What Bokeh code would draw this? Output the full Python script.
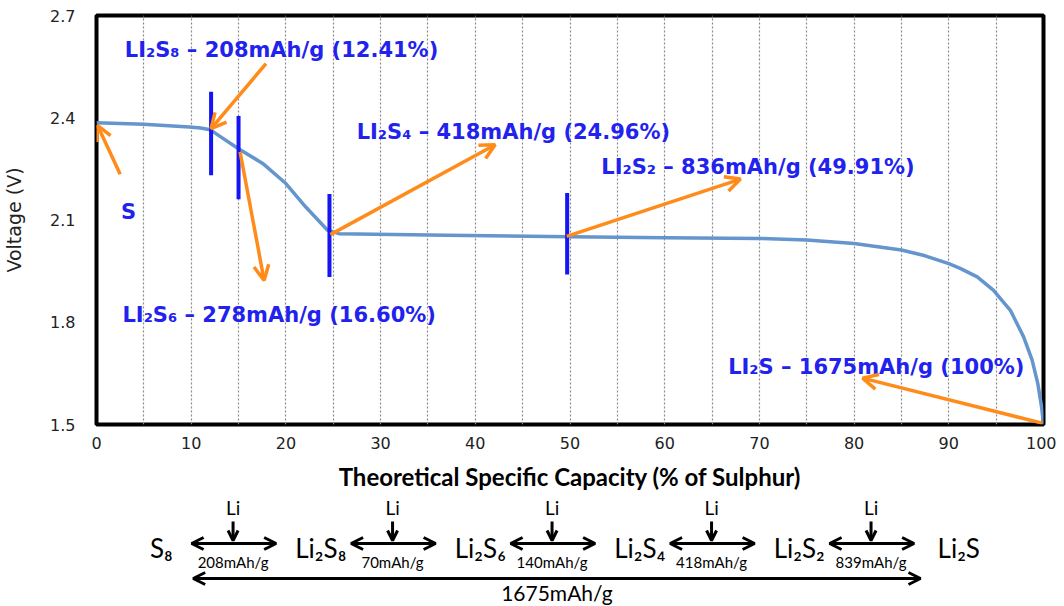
from bokeh.plotting import figure
from bokeh.layouts import column
from bokeh.models import (Range1d, FixedTicker, ColumnDataSource, Arrow, OpenHead)
from bokeh.core.properties import value
from bokeh.embed import file_html
from bokeh.resources import INLINE

# ---------------- data ----------------
capacity = [0, 5, 9.8, 11.0, 12.0, 13.0, 14.95, 17.55, 20.0, 22.1, 24.4, 25.6, 37, 50,
            60, 70, 75, 80, 85, 87.5, 90, 91.2, 93.0, 94.7, 96.5, 97.9, 98.8, 99.4, 99.8, 100]
voltage = [2.385, 2.381, 2.373, 2.370, 2.365, 2.346, 2.310, 2.266, 2.207, 2.138, 2.070, 2.060,
           2.055, 2.051, 2.048, 2.046, 2.041, 2.031, 2.012, 1.995, 1.972, 1.958, 1.933, 1.894,
           1.835, 1.757, 1.689, 1.620, 1.551, 1.5]

x_ticks = [0, 10, 20, 30, 40, 50, 60, 70, 80, 90, 100]
y_ticks = [1.5, 1.8, 2.1, 2.4, 2.7]
grid_x = [5, 10, 15, 20, 25, 30, 35, 40, 45, 50, 55, 60, 65, 70, 75, 80, 85, 90, 95]

marker_x = [12.1, 15.0, 24.6, 49.7]
marker_lo = [2.231, 2.161, 1.933, 1.940]
marker_hi = [2.476, 2.405, 2.176, 2.179]

label_text = ["LI\u2082S\u2088 \u2013 208mAh/g (12.41%)", "S",
              "LI\u2082S\u2084 \u2013 418mAh/g (24.96%)",
              "LI\u2082S\u2082 \u2013 836mAh/g (49.91%)",
              "LI\u2082S\u2086 \u2013 278mAh/g (16.60%)",
              "LI\u2082S \u2013 1675mAh/g (100%)"]
label_x = [2.99, 2.6, 27.47, 53.3, 2.74, 66.7]
label_y = [2.598, 2.123, 2.358, 2.256, 1.821, 1.669]

arrow_x0 = [2.5, 17.9, 15.16, 24.7, 49.65, 99.85]
arrow_y0 = [2.234, 2.559, 2.30, 2.057, 2.052, 1.504]
arrow_x1 = [0.1, 12.1, 17.7, 42.1, 68.0, 80.9]
arrow_y1 = [2.378, 2.368, 1.923, 2.321, 2.22, 1.636]

species = ["S\u2088", "Li\u2082S\u2088", "Li\u2082S\u2086", "Li\u2082S\u2084", "Li\u2082S\u2082", "Li\u2082S"]
step_capacity = ["208mAh/g", "70mAh/g", "140mAh/g", "418mAh/g", "839mAh/g"]
total_capacity = "1675mAh/g"

BLUE_TXT = "#2222EE"
BLUE_MK = "#1414F5"
ORANGE = "#FF8C1A"
CURVE = "#6495CD"

W = 1056
BL, BR = 93, 13

# ---------------- main chart ----------------
p = figure(width=W, height=494, x_range=Range1d(0, 100), y_range=Range1d(1.5, 2.7),
           output_backend="svg", toolbar_location=None,
           min_border_left=BL, min_border_right=BR, min_border_top=15, min_border_bottom=70)
p.background_fill_color = "white"
p.border_fill_color = "white"
p.outline_line_color = "black"
p.outline_line_width = 4

p.xaxis.ticker = FixedTicker(ticks=x_ticks)
p.yaxis.ticker = FixedTicker(ticks=y_ticks)
for ax in (p.xaxis[0], p.yaxis[0]):
    ax.axis_line_color = None
    ax.major_tick_line_color = None
    ax.minor_tick_line_color = None
    ax.major_tick_out = 0
    ax.major_tick_in = 0
    ax.major_label_text_font = "DejaVu Sans"
    ax.major_label_text_font_size = "16px"
    ax.major_label_text_color = "#222222"
p.xaxis.major_label_standoff = 12
p.yaxis.major_label_standoff = 21

p.xaxis.axis_label = "Theoretical Specific Capacity (% of Sulphur)"
p.xaxis.axis_label_text_font = "Lato"
p.xaxis.axis_label_text_font_style = "bold"
p.xaxis.axis_label_text_font_size = "24px"
p.xaxis.axis_label_text_color = "black"
p.xaxis.axis_label_standoff = 10

p.yaxis.axis_label = "Voltage (V)"
p.yaxis.axis_label_text_font = "DejaVu Sans"
p.yaxis.axis_label_text_font_style = "normal"
p.yaxis.axis_label_text_font_size = "19px"
p.yaxis.axis_label_text_color = "#222222"
p.yaxis.axis_label_standoff = 22

p.ygrid.grid_line_color = None
p.xgrid.ticker = FixedTicker(ticks=grid_x)
p.xgrid.grid_line_color = "#8a8a8a"
p.xgrid.grid_line_dash = "2 2"
p.xgrid.grid_line_width = 1.2

p.line(capacity, voltage, line_color=CURVE, line_width=3.5, line_join="round")
p.segment(x0=marker_x, y0=marker_lo, x1=marker_x, y1=marker_hi,
          line_color=BLUE_MK, line_width=4)

arrow_src = ColumnDataSource(dict(x0=arrow_x0, y0=arrow_y0, x1=arrow_x1, y1=arrow_y1))
p.add_layout(Arrow(source=arrow_src, x_start="x0", y_start="y0", x_end="x1", y_end="y1",
                   line_color=ORANGE, line_width=3.5,
                   end=OpenHead(size=15, line_color=ORANGE, line_width=3.5)))

p.text(x=label_x, y=label_y, text=label_text, text_font=value("DejaVu Sans"),
       text_font_style="bold", text_font_size="21px", text_color=BLUE_TXT,
       text_align="left", text_baseline="alphabetic")

# ---------------- reaction scheme ----------------
H2 = 112
q = figure(width=W, height=H2, x_range=Range1d(-0.40625, 5.53125), y_range=Range1d(H2, 0),
           output_backend="svg", toolbar_location=None,
           min_border_left=BL, min_border_right=BR, min_border_top=0, min_border_bottom=0)
q.axis.visible = False
q.grid.grid_line_color = None
q.outline_line_color = None
q.background_fill_color = "white"
q.border_fill_color = "white"

sp_idx = list(range(len(species)))
step_mid = [i + 0.45 for i in range(len(step_capacity))]
step_x0 = [i + 0.19 for i in range(len(step_capacity))]
step_x1 = [i + 0.72 for i in range(len(step_capacity))]
total_x0 = step_x0[0] + 0.01
total_x1 = len(step_capacity) - 1 + 0.76

ROW_LI, ROW_DOWN0, ROW_DOWN1, ROW_ARROW, ROW_SPECIES, ROW_CAP, ROW_TOTAL, ROW_TOTAL_LBL = 13, 27, 46, 49, 53, 67, 84, 98

q.text(x=sp_idx, y=[ROW_SPECIES] * len(species), text=species, text_font=value("Lato"),
       text_font_size="26px", text_color="black", text_align="center",
       text_baseline="alphabetic")

hsrc = ColumnDataSource(dict(x0=step_x0, x1=step_x1, y=[ROW_ARROW] * len(step_x0)))
q.add_layout(Arrow(source=hsrc, x_start="x0", y_start="y", x_end="x1", y_end="y",
                   line_color="black", line_width=3,
                   start=OpenHead(size=12, line_color="black", line_width=3),
                   end=OpenHead(size=12, line_color="black", line_width=3)))

dsrc = ColumnDataSource(dict(x=step_mid, y0=[ROW_DOWN0] * len(step_mid), y1=[ROW_DOWN1] * len(step_mid)))
q.add_layout(Arrow(source=dsrc, x_start="x", y_start="y0", x_end="x", y_end="y1",
                   line_color="black", line_width=3,
                   end=OpenHead(size=10, line_color="black", line_width=3)))

q.text(x=step_mid, y=[ROW_LI] * len(step_mid), text=["Li"] * len(step_mid), text_font=value("Lato"),
       text_font_size="19px", text_color="black", text_align="center", text_baseline="middle")
q.text(x=step_mid, y=[ROW_CAP] * len(step_mid), text=step_capacity, text_font=value("Lato"),
       text_font_size="15px", text_color="black", text_align="center", text_baseline="middle")

tsrc = ColumnDataSource(dict(x0=[total_x0], x1=[total_x1], y=[ROW_TOTAL]))
q.add_layout(Arrow(source=tsrc, x_start="x0", y_start="y", x_end="x1", y_end="y",
                   line_color="black", line_width=3,
                   start=OpenHead(size=12, line_color="black", line_width=3),
                   end=OpenHead(size=12, line_color="black", line_width=3)))
q.text(x=[(total_x0 + total_x1) / 2], y=[ROW_TOTAL_LBL], text=[total_capacity],
       text_font=value("Lato"), text_font_size="21px", text_color="black",
       text_align="center", text_baseline="middle")

layout = column(p, q, spacing=0)
open("out.html", "w").write(file_html(layout, INLINE))
